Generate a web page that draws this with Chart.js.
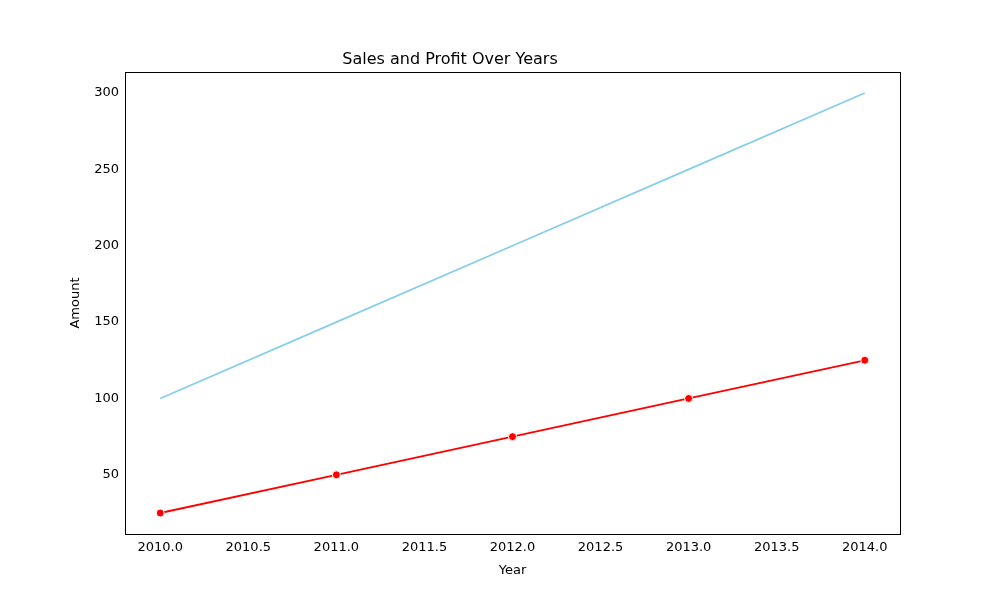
<!DOCTYPE html>
<html>
<head>
<script src="https://cdn.jsdelivr.net/npm/chart.js@4"></script>
<style>body{margin:0;background:#fff}</style>
</head>
<body>
<canvas id="myChart" width="1000" height="600"></canvas>
<script>
var years = [2010, 2011, 2012, 2013, 2014];
var sales = [100, 150, 200, 250, 300];
var profit = [25, 50, 75, 100, 125];
var xTicks = [2010, 2010.5, 2011, 2011.5, 2012, 2012.5, 2013, 2013.5, 2014];
var yTicks = [50, 100, 150, 200, 250, 300];

var frame = {
  id: "frame",
  afterDraw: function (chart) {
    var a = chart.chartArea, ctx = chart.ctx;
    ctx.save();
    ctx.strokeStyle = "#000";
    ctx.lineWidth = 1;
    ctx.strokeRect(a.left + 0.5, a.top + 0.5, a.right - a.left, a.bottom - a.top);
    ctx.restore();
  }
};

var font = { family: "DejaVu Sans", size: 13 };

new Chart("myChart", {
  type: "line",
  data: {
    datasets: [{
      label: "Sales",
      data: years.map(function (y, i) { return { x: y, y: sales[i] }; }),
      borderColor: "skyblue",
      borderWidth: 1.8,
      pointRadius: 0
    }, {
      label: "Profit",
      data: years.map(function (y, i) { return { x: y, y: profit[i] }; }),
      borderColor: "red",
      borderWidth: 1.8,
      pointRadius: 4,
      pointBackgroundColor: "red",
      pointBorderColor: "#fff",
      pointBorderWidth: 1
    }]
  },
  plugins: [frame],
  options: {
    responsive: false,
    animation: false,
    layout: { padding: { right: 100 } },
    plugins: {
      legend: { display: false },
      tooltip: { enabled: false },
      title: {
        display: true,
        text: "Sales and Profit Over Years",
        color: "#000",
        font: { family: "DejaVu Sans", size: 16, weight: "normal" },
        padding: { top: 50, bottom: 2.8 }
      }
    },
    scales: {
      x: {
        type: "linear",
        min: 2009.8, max: 2014.2,
        afterBuildTicks: function (s) { s.ticks = xTicks.map(function (v) { return { value: v }; }); },
        afterFit: function (s) { s.height = 66; },
        grid: { display: false, drawTicks: true, tickLength: 5, tickColor: "#000" },
        border: { display: false },
        ticks: { color: "#000", font: font, maxRotation: 0, autoSkip: false, padding: 1,
          callback: function (v) { return v.toFixed(1); } },
        title: { display: true, text: "Year", color: "#000", font: font, padding: { top: 22, bottom: 22 } }
      },
      y: {
        min: 11.25, max: 313.75,
        afterBuildTicks: function (s) { s.ticks = yTicks.map(function (v) { return { value: v }; }); },
        afterFit: function (s) { s.width = 125; },
        grid: { display: false, drawTicks: true, tickLength: 5, tickColor: "#000" },
        border: { display: false },
        ticks: { color: "#000", font: font, padding: 1 },
        title: { display: true, text: "Amount", color: "#000", font: font, padding: { top: 68, bottom: 68 } }
      }
    }
  }
});
</script>
</body>
</html>
